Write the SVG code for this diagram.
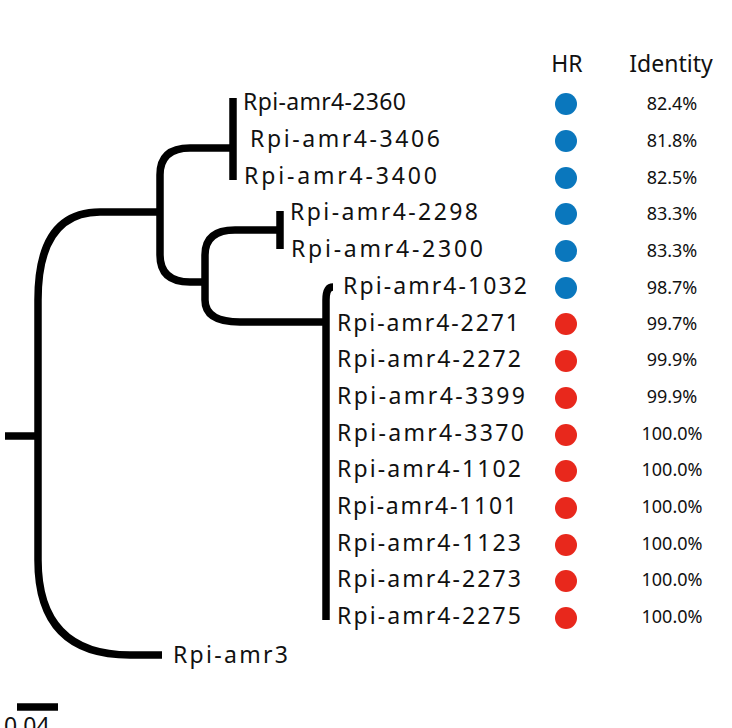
<svg xmlns="http://www.w3.org/2000/svg" width="732" height="728" viewBox="0 0 732 728">
<style>
.e{fill:none;stroke:#000;stroke-width:7.5;stroke-linecap:butt}
.l{font-family:"Noto Sans","Lato",sans-serif;font-size:23px;fill:#111}
.n{font-family:"Noto Sans","Lato",sans-serif;font-size:23px;fill:#111;textLength:183}
.p{font-family:"Noto Sans","Lato",sans-serif;font-size:18px;fill:#111;text-anchor:middle}
.b{fill:#0a77bd}.r{fill:#e8281c}
</style>
<rect width="732" height="728" fill="#fff"/>
<g id="connectors">
<path class="e" d="M5 436H38"/>
<path class="e" d="M38 436V300Q38 212 100 212H160"/>
<path class="e" d="M38 436V560Q38 655 130 655H162"/>
<path class="e" d="M160 212V175Q160 148 190 148H233"/>
<path class="e" d="M160 212V255Q160 282 190 282H205"/>
<path class="e" d="M233 98V180"/>
<path class="e" d="M205 282V255Q205 230 235 230H280"/>
<path class="e" d="M205 282V300Q205 322 240 322H326"/>
<path class="e" d="M280 211V249"/>
<path class="e" d="M326 322V300Q326 287 333 287"/>
<path class="e" d="M326 322V620"/>
<path class="e" d="M17 707H58"/>
</g>
<g id="header"><text class="l" x="567" y="72" text-anchor="middle">HR</text><text class="l" x="671" y="72" text-anchor="middle">Identity</text></g>
<g id="n2360"><text class="l" x="243" y="110" textLength="163">Rpi-amr4-2360</text><circle class="b" cx="566" cy="104" r="11"/><text class="p" x="672" y="110">82.4%</text></g>
<g id="n3406"><text class="l" x="250" y="147" textLength="190">Rpi-amr4-3406</text><circle class="b" cx="566" cy="141" r="11"/><text class="p" x="672" y="147">81.8%</text></g>
<g id="n3400"><text class="l" x="244" y="184" textLength="193">Rpi-amr4-3400</text><circle class="b" cx="566" cy="178" r="11"/><text class="p" x="672" y="184">82.5%</text></g>
<g id="n2298"><text class="l" x="290" y="220" textLength="188">Rpi-amr4-2298</text><circle class="b" cx="566" cy="214" r="11"/><text class="p" x="672" y="220">83.3%</text></g>
<g id="n2300"><text class="l" x="291" y="257" textLength="192">Rpi-amr4-2300</text><circle class="b" cx="566" cy="251" r="11"/><text class="p" x="672" y="257">83.3%</text></g>
<g id="n1032"><text class="l" x="343" y="294" textLength="184">Rpi-amr4-1032</text><circle class="b" cx="566" cy="288" r="11"/><text class="p" x="672" y="294">98.7%</text></g>
<g id="n2271"><text class="l" x="337" y="331" textLength="182">Rpi-amr4-2271</text><circle class="r" cx="566" cy="324" r="11"/><text class="p" x="672" y="330">99.7%</text></g>
<g id="n2272"><text class="l" x="337" y="367" textLength="184">Rpi-amr4-2272</text><circle class="r" cx="566" cy="361" r="11"/><text class="p" x="672" y="366">99.9%</text></g>
<g id="n3399"><text class="l" x="337" y="404" textLength="188">Rpi-amr4-3399</text><circle class="r" cx="566" cy="398" r="11"/><text class="p" x="672" y="403">99.9%</text></g>
<g id="n3370"><text class="l" x="337" y="441" textLength="187">Rpi-amr4-3370</text><circle class="r" cx="566" cy="435" r="11"/><text class="p" x="672" y="440">100.0%</text></g>
<g id="n1102"><text class="l" x="337" y="477" textLength="184">Rpi-amr4-1102</text><circle class="r" cx="566" cy="471" r="11"/><text class="p" x="672" y="476">100.0%</text></g>
<g id="n1101"><text class="l" x="337" y="514" textLength="180">Rpi-amr4-1101</text><circle class="r" cx="566" cy="508" r="11"/><text class="p" x="672" y="513">100.0%</text></g>
<g id="n1123"><text class="l" x="337" y="551" textLength="184">Rpi-amr4-1123</text><circle class="r" cx="566" cy="545" r="11"/><text class="p" x="672" y="550">100.0%</text></g>
<g id="n2273"><text class="l" x="337" y="587" textLength="184">Rpi-amr4-2273</text><circle class="r" cx="566" cy="581" r="11"/><text class="p" x="672" y="586">100.0%</text></g>
<g id="n2275"><text class="l" x="337" y="624" textLength="184">Rpi-amr4-2275</text><circle class="r" cx="566" cy="618" r="11"/><text class="p" x="672" y="623">100.0%</text></g>
<g id="amr3"><text class="l" x="173" y="663" textLength="115">Rpi-amr3</text></g>
<g id="scale"><text class="l" x="4" y="734">0.04</text></g>
</svg>
